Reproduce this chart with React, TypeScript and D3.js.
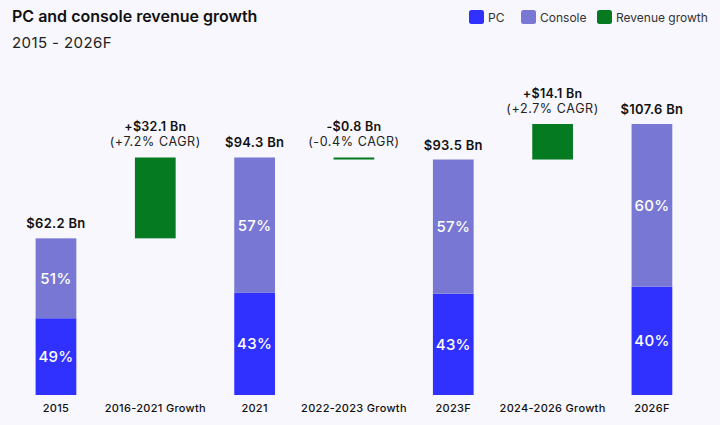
import React from "react";
import * as d3 from "d3";

const categories = ["2015", "2016-2021 Growth", "2021", "2022-2023 Growth", "2023F", "2024-2026 Growth", "2026F"];
const kinds = ["total", "growth", "total", "growth", "total", "growth", "total"];
const totals = [62.2, null, 94.3, null, 93.5, null, 107.6];
const pcShare = [49, null, 43, null, 43, null, 40];
const consoleShare = [51, null, 57, null, 57, null, 60];
const growthFrom = [null, 62.2, null, 94.3, null, 93.5, null];
const growthTo = [null, 94.3, null, 93.5, null, 107.6, null];
const growthLabels = [null, "+$32.1 Bn", null, "-$0.8 Bn", null, "+$14.1 Bn", null];
const cagrLabels = [null, "(+7.2% CAGR)", null, "(-0.4% CAGR)", null, "(+2.7% CAGR)", null];
const totalLabels = ["$62.2 Bn", null, "$94.3 Bn", null, "$93.5 Bn", null, "$107.6 Bn"];
const legendItems = ["PC", "Console", "Revenue growth"];

const W = 720;
const H = 425;
const C_PC = "#3131ff";
const C_CON = "#7878d4";
const C_GREEN = "#057a20";
const BG = "#f7f7fd";
const FONT = "Inter, 'Open Sans', sans-serif";

export default function App() {
  const x = d3
    .scaleBand<string>()
    .domain(categories)
    .range([6.3, 701.6])
    .paddingInner(0.59)
    .paddingOuter(0.295);
  const y = d3.scaleLinear().domain([0, 107.6]).range([395, 124]);
  const bw = x.bandwidth();
  const legendColors = [C_PC, C_CON, C_GREEN];
  const legendX = [469, 521, 597];

  return (
    <svg width={W} height={H} style={{ position: "absolute", left: 0, top: 0, background: BG }} fontFamily={FONT}>
      <rect x={0} y={0} width={W} height={H} fill={BG} />
      <text x={12} y={22} fontSize={16} fontWeight={600} fill="#111">
        PC and console revenue growth
      </text>
      <text x={12} y={48} fontSize={15} fill="#222" letterSpacing={0.4}>
        2015 - 2026F
      </text>
      {legendItems.map((l, i) => (
        <g key={l}>
          <rect x={legendX[i]} y={10} width={15} height={14} rx={2.5} fill={legendColors[i]} />
          <text x={legendX[i] + 19} y={21.5} fontSize={12} fill="#333">
            {l}
          </text>
        </g>
      ))}
      {categories.map((c, i) => {
        const x0 = x(c)!;
        const cx = x0 + bw / 2;
        if (kinds[i] === "total") {
          const t = totals[i]!;
          const pc = (t * pcShare[i]!) / 100;
          const yTop = y(t);
          const yMid = y(pc);
          return (
            <g key={c}>
              <rect x={x0} y={yMid} width={bw} height={y(0) - yMid} fill={C_PC} />
              <rect x={x0} y={yTop} width={bw} height={yMid - yTop} fill={C_CON} />
              <text x={cx} y={(yTop + yMid) / 2 + 5.5} textAnchor="middle" fontSize={15} fontWeight={500} fill="#fff" letterSpacing={0.3}>
                {consoleShare[i]}%
              </text>
              <text x={cx} y={(yMid + y(0)) / 2 + 5.5} textAnchor="middle" fontSize={15} fontWeight={500} fill="#fff" letterSpacing={0.3}>
                {pcShare[i]}%
              </text>
              <text x={cx} y={yTop - 10} textAnchor="middle" fontSize={13} fontWeight={600} fill="#111" letterSpacing={0.3}>
                {totalLabels[i]}
              </text>
              <text x={cx} y={412} textAnchor="middle" fontSize={11} fontWeight={500} fill="#111" letterSpacing={0.3}>
                {c}
              </text>
            </g>
          );
        }
        const a = y(growthFrom[i]!);
        const b = y(growthTo[i]!);
        const top = Math.min(a, b);
        return (
          <g key={c}>
            <rect x={x0} y={top} width={bw} height={Math.max(2, Math.abs(a - b))} fill={C_GREEN} />
            <text x={cx} y={top - 26} textAnchor="middle" fontSize={12.5} fontWeight={600} fill="#111" letterSpacing={0.3}>
              {growthLabels[i]}
            </text>
            <text x={cx} y={top - 11} textAnchor="middle" fontSize={12.5} fill="#222" letterSpacing={0.6}>
              {cagrLabels[i]}
            </text>
            <text x={cx} y={412} textAnchor="middle" fontSize={11} fontWeight={500} fill="#111" letterSpacing={0.3}>
              {c}
            </text>
          </g>
        );
      })}
    </svg>
  );
}
